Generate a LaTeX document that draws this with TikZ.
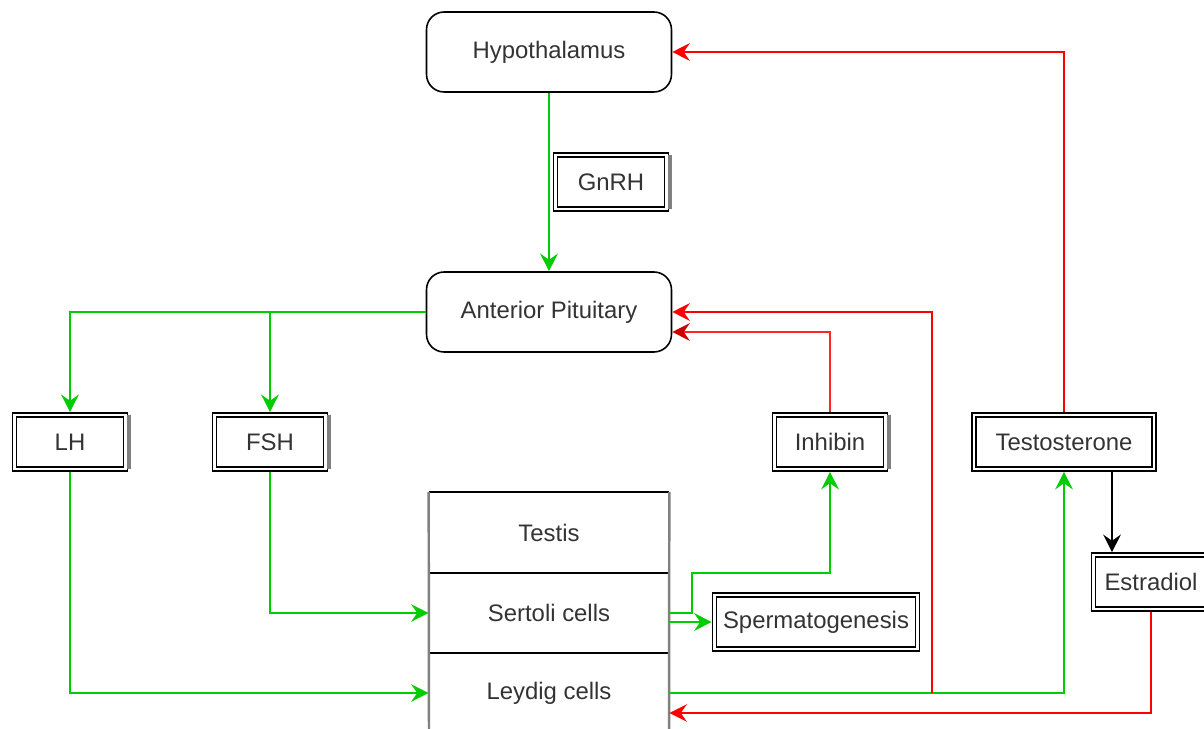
\documentclass[tikz,border=0pt]{standalone}
\usepackage{fontspec}
\setmainfont{Liberation Sans}
\usetikzlibrary{arrows.meta}
\definecolor{txtgray}{HTML}{333333}
\definecolor{lgreen}{HTML}{00CC00}
\definecolor{lred}{HTML}{FF0000}
\definecolor{dred}{HTML}{CC0000}
\tikzset{
	hub/.style={draw, rounded corners=10pt, line width=0.9pt, minimum width=4.9cm, minimum height=1.6cm, text=txtgray},
	dbox/.style={draw, double, line width=0.9pt, double distance=1.5pt, outer sep=1.6pt, minimum height=1.08cm, inner sep=0pt, text=txtgray},
	cell/.style={minimum width=4.8cm, minimum height=1.6cm, inner sep=0pt, text=txtgray},
	tip/.style={-{Stealth[length=10pt, width=10pt, inset=3.5pt]}},
	gline/.style={lgreen, line width=1.1pt, tip},
	rline/.style={lred, line width=1.1pt, tip},
	bline/.style={black, line width=1.1pt, tip}
}
\begin{document}
\begin{tikzpicture}[x=0.02cm, y=-0.02cm, font=\fontsize{13.6}{16}\selectfont]
		\useasboundingbox (0,0) rectangle (1204,729);

		\node[hub] (hyp) at (549,52) {Hypothalamus};
		\node[dbox, minimum width=2.22cm] (gnrh) at (611,182) {GnRH};
		\node[hub] (ap) at (549,312) {Anterior Pituitary};

		\node[dbox, minimum width=2.22cm] (lh) at (70,442) {LH};
		\node[dbox, minimum width=2.22cm] (fsh) at (270,442) {FSH};
		\node[dbox, minimum width=2.22cm] (inh) at (830,442) {Inhibin};
		\node[dbox, minimum width=3.6cm] (tes) at (1064,442) {Testosterone};
		\node[dbox, minimum width=2.3cm] (est) at (1151,582) {Estradiol};
		\node[dbox, minimum width=4.06cm] (sperm) at (816,622) {Spermatogenesis};

		\node[cell] (tst) at (549,532.5) {Testis};
		\node[cell] (ser) at (549,613) {Sertoli cells};
		\node[cell] (ley) at (549,693) {Leydig cells};

		\foreach \n in {tst, ser, ley} {\draw[line width=1.1pt] (\n.north west) -- (\n.north east);}
		\draw[gray, line width=1.4pt] (tst.north west) -- (429,740);
		\draw[gray, line width=1.4pt] (tst.north east) -- (669,740);

		\foreach \n in {gnrh, lh, fsh, inh} {\draw[gray, line width=2.2pt] ([xshift=0.6pt, yshift=-1.6pt]\n.north east) -- ([xshift=0.6pt, yshift=1.6pt]\n.south east);}

		\draw[gline] (hyp) -- (ap);
		\draw[gline] (ap.west) -| (lh);
		\draw[gline] (ap.west) -| (fsh);
		\draw[gline] (lh) |- (ley.west);
		\draw[gline] (fsh) |- (ser.west);
		\draw[gline] (ser.east) -| ++(23,-40) -| (inh);
		\draw[gline] (ser.east |- sperm) -- (sperm);
		\draw[gline] (ley.east) -| (tes);

		\coordinate (split) at (932,693);
		\draw[rline] (split) |- (ap.east);
		\draw[lred!85, line width=1.1pt, -{Stealth[length=10pt, width=10pt, inset=3.5pt, color=dred]}] (inh) |- ([yshift=-0.4cm]ap.east);
		\draw[rline] (tes) |- (hyp);
		\draw[rline] (est) |- ([yshift=-0.4cm]ley.east);

		\coordinate (tesout) at (1112,472);
		\draw[bline] (tesout) -- (tesout |- est.north);
	\end{tikzpicture}
\end{document}
